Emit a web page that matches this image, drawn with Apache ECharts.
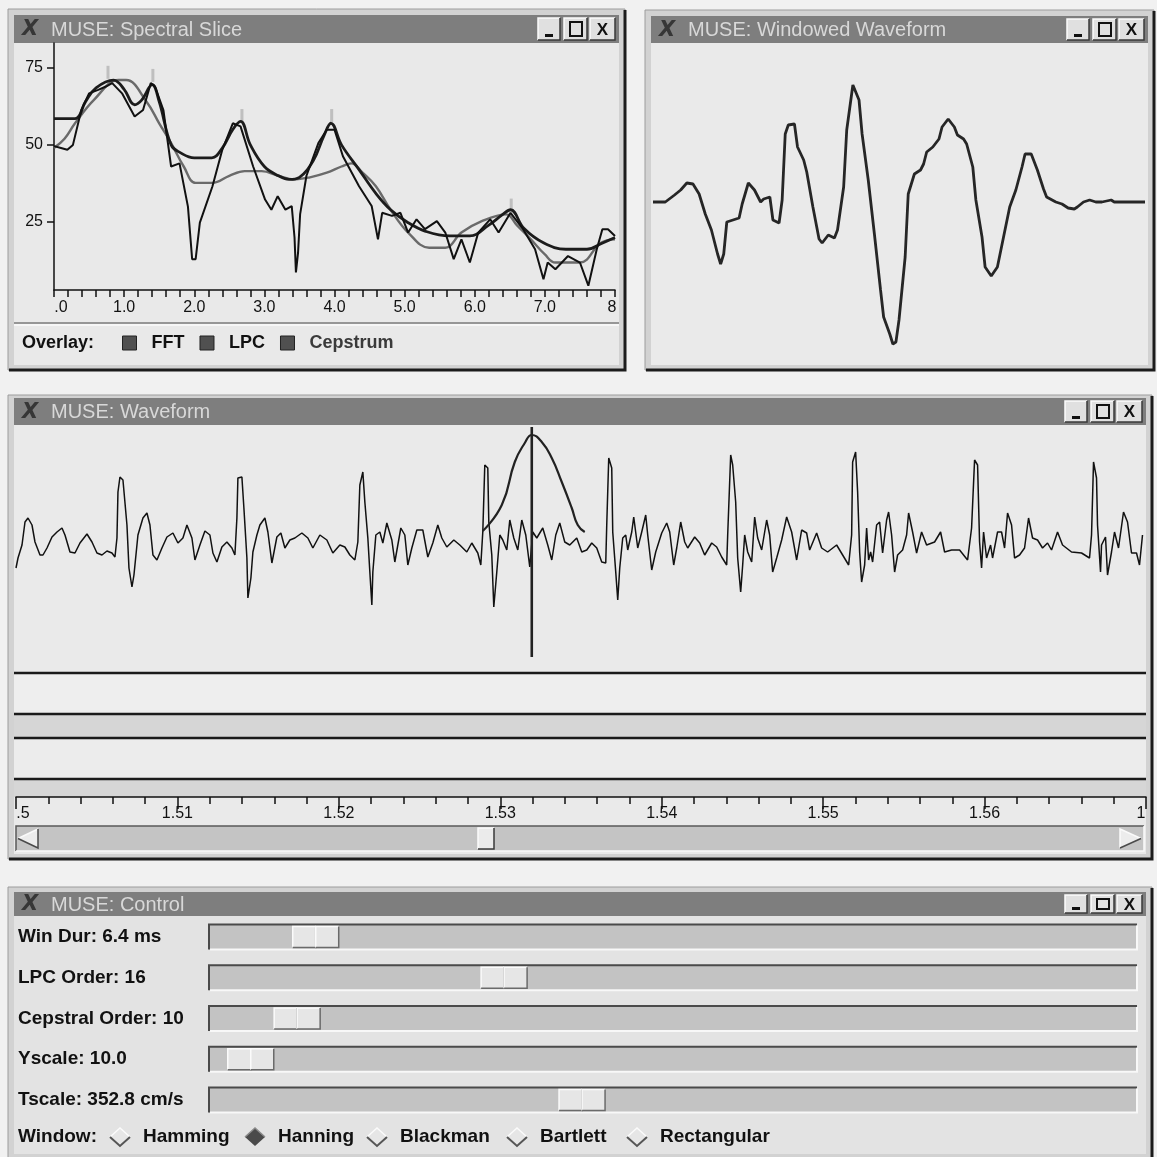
<!DOCTYPE html>
<html>
<head>
<meta charset="utf-8">
<title>MUSE</title>
<script src="https://cdn.jsdelivr.net/npm/echarts@6/dist/echarts.min.js"></script>
<style>
  html, body { margin: 0; padding: 0; background: #f1f1f1; }
  #chart { width: 1157px; height: 1157px; }
</style>
</head>
<body>
<div id="chart"></div>
<script>
// --- Spectral slice: [kHz, dB] ---
const fft = [[0,49.6],[0.1,49],[0.19,48.4],[0.27,50],[0.39,61.3],[0.5,66.7],[0.63,67.8],[0.74,68.9],[0.83,70],[0.97,66.7],[1.15,59.2],[1.27,61.3],[1.38,70],[1.44,68.9],[1.56,61.3],[1.67,43],[1.79,44],[1.91,30],[1.97,13],[2.02,13],[2.08,24.8],[2.26,36.6],[2.4,48.4],[2.55,57],[2.66,56],[2.84,43],[3.01,32.3],[3.1,29],[3.19,33.4],[3.3,29],[3.39,30.2],[3.43,20],[3.45,8.7],[3.48,15],[3.51,27.6],[3.6,40],[3.77,50.6],[3.89,54.9],[4.0,54.9],[4.12,46.3],[4.35,36.6],[4.53,30.2],[4.62,19.4],[4.68,28],[4.82,27],[4.94,28],[5.05,21.6],[5.17,25.9],[5.29,22.7],[5.46,25.3],[5.58,21.6],[5.7,13],[5.81,19.4],[5.93,11.9],[6.05,21.6],[6.22,25.9],[6.34,21.6],[6.51,28],[6.69,22.7],[6.86,16.2],[6.98,6.5],[7.04,11.9],[7.15,9.7],[7.33,14],[7.5,11.9],[7.62,4.4],[7.74,16.2],[7.82,22.7],[7.9,22.7],[8.0,20.5]];
const lpc = [[0,58.5],[0.3,58.5],[0.45,64],[0.6,68.5],[0.85,71],[1.0,68],[1.15,63],[1.25,64.5],[1.4,69.5],[1.5,64],[1.67,50],[1.8,47.5],[2.0,45.8],[2.25,45.8],[2.4,49],[2.55,55],[2.66,57.6],[2.8,50],[3.0,43],[3.2,40],[3.35,38.8],[3.5,39.5],[3.7,45],[3.85,53],[3.95,57],[4.1,50],[4.35,42],[4.6,34],[4.8,29],[5.05,24.8],[5.3,22],[5.64,20.5],[5.93,20.5],[6.2,24],[6.4,27.5],[6.51,29],[6.7,23],[6.98,18.3],[7.3,16.2],[7.6,16.2],[7.8,18],[8.0,20]];
const cepstrum = [[0,49],[0.15,52],[0.3,57],[0.57,64.6],[0.92,71],[1.03,71],[1.32,64],[1.5,57],[1.67,50.6],[1.85,43],[2.02,37.7],[2.26,37.7],[2.5,40],[2.72,41.5],[2.96,41.5],[3.2,40],[3.42,38.8],[3.65,39.5],[3.89,41],[4.1,43],[4.24,44],[4.4,41],[4.59,36.6],[4.8,29],[5.05,21.6],[5.35,16.7],[5.58,16.7],[5.81,21.6],[6.1,25.3],[6.45,27.5],[6.6,24],[6.8,19.4],[7.0,14.5],[7.15,11.9],[7.5,11.9],[7.8,18.3],[8.0,19.4]];
const formants = [[0.77,73.5],[1.41,72.5],[2.68,59.5],[3.96,59.5],[6.52,30.5]];
const freqTickLabels = ['.0','1.0','2.0','3.0','4.0','5.0','6.0','7.0','8'];
const dbTicks = [25, 50, 75];
const overlays = ['FFT', 'LPC', 'Cepstrum'];

// --- Windowed waveform: [sample, amplitude] ---
const windowed = [[0,0],[4,0],[7,7],[9,12],[11,19],[13,18],[15,8],[17,-12],[19,-28],[21,-52],[22,-62],[23,-52],[24,-20],[26,-18],[27,-17],[28,-16],[29,-2],[31,19],[33,12],[35,0],[36,3],[38,5],[39,-18],[41,-21],[42,2],[43,68],[44,77],[46,78],[47,55],[49,42],[50,30],[52,-5],[54,-37],[55,-41],[57,-33],[59,-36],[60,-28],[62,15],[63,72],[65,117],[67,102],[68,68],[70,22],[72,-32],[74,-88],[75,-115],[77,-132],[78,-142],[79,-140],[80,-118],[82,-55],[83,8],[85,28],[87,32],[88,38],[89,50],[91,55],[93,63],[94,75],[96,83],[98,75],[99,67],[101,63],[102,58],[104,35],[105,2],[107,-35],[108,-65],[110,-74],[112,-65],[114,-35],[116,-5],[118,12],[120,35],[121,48],[123,48],[125,32],[127,13],[128,5],[131,0],[133,-2],[135,-6],[137,-7],[138,-5],[140,0],[142,2],[144,0],[146,0],[149,2],[150,0],[160,0]];

// --- Waveform: [sample, amplitude] ---
const wave = [[0,-18],[2,-8],[6,5],[9,28],[12,32],[16,25],[19,8],[24,-5],[27,-5],[31,2],[36,13],[41,18],[46,22],[49,15],[54,-2],[59,-3],[64,7],[71,16],[76,8],[81,-3],[86,-5],[91,-1],[96,-3],[99,-7],[101,12],[102,58],[104,73],[106,73],[107,70],[111,25],[113,-18],[116,-37],[118,-25],[122,15],[127,32],[131,37],[134,25],[137,-5],[141,-10],[146,2],[151,13],[157,17],[162,7],[167,12],[171,25],[176,12],[179,-10],[184,5],[189,19],[194,15],[197,-3],[201,-12],[206,3],[211,8],[216,2],[219,-5],[221,32],[222,72],[226,73],[228,42],[231,-8],[232,-48],[235,-28],[237,-2],[241,15],[244,25],[249,32],[252,18],[256,-13],[261,13],[265,17],[269,2],[274,10],
  [279,12],[286,17],[292,12],[297,2],[304,15],[311,10],[317,-3],[324,5],[329,3],[334,-5],[339,-10],[342,8],[344,65],[347,78],[349,48],[352,12],[354,-22],[356,-55],[357,-22],[360,15],[364,18],[367,7],[371,27],[376,10],[379,-12],[385,22],[389,15],[392,-15],[396,2],[401,20],[407,20],[412,-7],[417,7],[422,25],[426,12],[431,3],[438,10],[444,5],[451,-2],[456,7],[462,-3],[465,-15],[467,18],[469,85],[472,82],[473,28],[476,-5],[478,-57],[481,-22],[484,15],[487,10],[491,0],[494,30],[498,12],[502,0],[506,30],[510,15],[514,-17],[517,18],[521,12],[527,22],[532,5],[536,-10],[540,15],[544,27],[549,8],[554,5],[561,12],[566,-2],
  [571,0],[576,7],[581,2],[586,-12],[590,-13],[591,25],[593,92],[596,82],[597,18],[600,-22],[602,-50],[604,-18],[607,12],[610,15],[612,0],[616,18],[618,33],[622,2],[626,18],[630,35],[632,15],[636,-20],[640,-2],[646,17],[651,27],[654,18],[658,-15],[661,2],[665,28],[669,8],[672,2],[679,13],[684,7],[689,-5],[696,7],[701,3],[706,-7],[711,-15],[712,15],[715,95],[717,85],[720,48],[722,-8],[725,-42],[727,-15],[729,15],[732,-2],[736,-12],[739,33],[742,12],[746,0],[751,30],[754,15],[757,-22],[761,-8],[766,10],[771,33],[776,18],[781,-10],[786,20],[791,17],[794,0],[801,17],[806,2],[812,-2],[821,5],[827,-5],[833,-15],[836,15],[837,88],[840,98],[842,58],[844,-2],[846,-32],
  [849,-15],[851,22],[853,-10],[855,-2],[857,-12],[861,25],[864,28],[867,-3],[871,30],[873,38],[876,15],[879,-22],[882,-5],[887,0],[891,15],[893,37],[897,18],[901,-3],[906,18],[911,5],[919,8],[925,18],[929,-2],[936,0],[944,0],[952,-10],[956,22],[959,90],[962,85],[964,8],[966,-18],[968,18],[971,-8],[975,5],[977,-8],[982,18],[986,18],[989,2],[992,37],[996,25],[999,-8],[1004,-5],[1009,2],[1013,32],[1017,12],[1022,10],[1027,2],[1032,7],[1036,0],[1042,18],[1047,5],[1056,-2],[1066,-3],[1074,-8],[1076,15],[1078,88],[1081,72],[1082,25],[1085,-22],[1086,5],[1090,13],[1092,-25],[1096,-2],[1099,18],[1103,2],[1108,38],[1112,28],[1116,-3],[1121,-3],[1124,-15],[1127,15]];
const analysisWindow = [[467,19],[486,45],[499,88],[509,107],[516,115],[526,108],[536,92],[546,68],[556,42],[562,25],[569,18]];
const cursor = [[516,123],[516,-107]];
const timeTickLabels = ['.5','1.51','1.52','1.53','1.54','1.55','1.56','1'];

// --- Control panel ---
const sliderLabels = ['Win Dur: 6.4 ms', 'LPC Order: 16', 'Cepstral Order: 10', 'Yscale: 10.0', 'Tscale: 352.8 cm/s'];
const sliderPos = [0.115, 0.318, 0.095, 0.045, 0.402];
const windowTypes = ['Hamming', 'Hanning', 'Blackman', 'Bartlett', 'Rectangular'];
const windowSelected = 'Hanning';

const FONT = '"Liberation Sans", "DejaVu Sans", sans-serif';

// ---- window chrome, drawn as graphic elements ----
const G = [];
function rect(x, y, w, h, fill, stroke, lw) {
  G.push({ type: 'rect', shape: { x, y, width: w, height: h },
    style: { fill: fill || 'transparent', stroke: stroke || null, lineWidth: lw || 0 } });
}
function line(points, stroke, lw) {
  G.push({ type: 'polyline', shape: { points }, style: { stroke, lineWidth: lw, fill: null } });
}
function poly(points, fill) {
  G.push({ type: 'polygon', shape: { points }, style: { fill } });
}
function text(x, y, str, font, fill, align) {
  const a = align || 'left';
  G.push({ type: 'text', x, y, style: { text: str, font, fill,
    textAlign: a, align: a, textVerticalAlign: 'middle', verticalAlign: 'middle' } });
}
function bevel(x, y, w, h, fill) {
  rect(x, y, w, h, fill);
  line([[x, y + h], [x, y], [x + w, y]], '#fbfbfb', 1.5);
  line([[x + w, y], [x + w, y + h], [x, y + h]], '#3a3a3a', 1.5);
}
function windowFrame(x, y, w, h, barY, barH, title, bodyFill) {
  rect(x, y, w, h, '#d2d2d2', '#9c9c9c', 1);
  line([[x + 1, y + h], [x + w, y + h], [x + w, y + 1]], '#1c1c1c', 3);
  const bx = x + 6, bw = w - 12;
  rect(bx, barY + barH, bw, y + h - 5 - barY - barH, bodyFill);
  rect(bx, barY, bw, barH, '#7e7e7e');
  text(bx + 8, barY + barH / 2 + 1, 'X', 'italic bold 21px "DejaVu Sans"', '#363636');
  text(bx + 37, barY + barH / 2 + 1, title, '20px ' + FONT, '#d8d8d8');
  const R = bx + bw, by = barY + 3, bh = barH - 6;
  bevel(R - 81, by, 22, bh, '#e0e0e0');
  rect(R - 74, by + bh - 6, 8, 3, '#111');
  bevel(R - 55, by, 23, bh, '#e0e0e0');
  rect(R - 49, by + 4, 12, bh - 8, null, '#111', 2);
  bevel(R - 29, by, 25, bh, '#e0e0e0');
  text(R - 16.5, by + bh / 2 + 1, 'X', 'bold 17px ' + FONT, '#111', 'center');
}

windowFrame(8, 9, 617, 361, 15, 28, 'MUSE: Spectral Slice', '#e9e9e9');
windowFrame(645, 10, 509, 360, 16, 27, 'MUSE: Windowed Waveform', '#eaeaea');
windowFrame(8, 395, 1144, 464, 398, 27, 'MUSE: Waveform', '#eaeaea');
windowFrame(8, 887, 1144, 272, 892, 24, 'MUSE: Control', '#e3e3e3');

// spectral slice: overlay strip
line([[14, 323], [619, 323]], '#7a7a7a', 1.5);
line([[14, 325], [619, 325]], '#fafafa', 1.5);
text(22, 343, 'Overlay:', 'bold 18px ' + FONT, '#111');

// waveform: empty track panels under the signal
rect(14, 673, 1132, 41, '#eeeeee');
rect(14, 714, 1132, 24, '#d6d6d6');
rect(14, 738, 1132, 41, '#ececec');
rect(14, 779, 1132, 18, '#d6d6d6');
[673, 714, 738, 779].forEach(y => line([[14, y], [1146, y]], '#1a1a1a', 2.5));

// waveform: scrollbar
rect(16, 826, 1128, 25, '#c4c4c4');
line([[16, 851], [16, 826], [1144, 826]], '#5a5a5a', 1.5);
line([[16, 851], [1144, 851], [1144, 826]], '#fafafa', 1.5);
poly([[38, 829], [18, 838.5], [38, 848]], '#ececec');
line([[38, 829], [18, 838.5]], '#fafafa', 1.5);
line([[18, 838.5], [38, 848], [38, 829]], '#4a4a4a', 1.5);
poly([[1120, 829], [1141, 838.5], [1120, 848]], '#ececec');
line([[1120, 848], [1120, 829], [1141, 838.5]], '#fafafa', 1.5);
line([[1141, 838.5], [1120, 848]], '#4a4a4a', 1.5);
bevel(478, 828, 16, 21, '#ebebeb');

// control: window type radio buttons
text(18, 1137, 'Window:', 'bold 19px ' + FONT, '#111');
const radioX = [120, 255, 377, 517, 637];
windowTypes.forEach((name, i) => {
  const cx = radioX[i], cy = 1137;
  const pts = [[cx - 10, cy], [cx, cy - 9], [cx + 10, cy], [cx, cy + 9]];
  if (name === windowSelected) {
    poly(pts, '#4a4a4a');
    line([[cx - 10, cy], [cx, cy - 9], [cx + 10, cy]], '#8a8a8a', 1.5);
  } else {
    poly(pts, '#e6e6e6');
    line([[cx - 10, cy], [cx, cy - 9], [cx + 10, cy]], '#fbfbfb', 1.5);
    line([[cx - 10, cy], [cx, cy + 9], [cx + 10, cy]], '#555', 2);
  }
  text(cx + 23, cy, name, 'bold 19px ' + FONT, '#111');
});

function sliderItem(params, api) {
  const cat = api.value(1);
  const p0 = api.coord([0, cat]);
  const p1 = api.coord([1, cat]);
  const cx = api.coord([api.value(0), cat])[0];
  const cy = p0[1], h = 25, th = 21, tw = 23;
  const half = (x) => [
    { type: 'rect', shape: { x, y: cy - th / 2, width: tw, height: th }, style: { fill: '#e6e6e6' } },
    { type: 'polyline', shape: { points: [[x, cy + th / 2], [x, cy - th / 2], [x + tw, cy - th / 2]] },
      style: { stroke: '#fbfbfb', lineWidth: 1.5, fill: null } },
    { type: 'polyline', shape: { points: [[x + tw, cy - th / 2], [x + tw, cy + th / 2], [x, cy + th / 2]] },
      style: { stroke: '#6a6a6a', lineWidth: 1.5, fill: null } }
  ];
  return {
    type: 'group',
    children: [
      { type: 'rect', shape: { x: p0[0], y: cy - h / 2, width: p1[0] - p0[0], height: h }, style: { fill: '#c3c3c3' } },
      { type: 'polyline', shape: { points: [[p0[0], cy + h / 2], [p0[0], cy - h / 2], [p1[0], cy - h / 2]] },
        style: { stroke: '#4a4a4a', lineWidth: 2, fill: null } },
      { type: 'polyline', shape: { points: [[p0[0] + 1, cy + h / 2], [p1[0], cy + h / 2], [p1[0], cy - h / 2 + 1]] },
        style: { stroke: '#f8f8f8', lineWidth: 2, fill: null } }
    ].concat(half(cx - tw), half(cx))
  };
}

const axisBlack = { lineStyle: { color: '#111', width: 1.5 } };

const option = {
  backgroundColor: '#f1f1f1',
  animation: false,
  textStyle: { fontFamily: FONT },
  graphic: { elements: G },
  legend: {
    left: 122, top: 334, padding: 0,
    icon: 'rect', itemWidth: 14, itemHeight: 14, itemGap: 15,
    selectedMode: false,
    formatter: name => '  ' + name,
    textStyle: { fontSize: 18, fontWeight: 'bold', color: '#111' },
    data: overlays.map(name => ({
      name,
      itemStyle: { color: '#505050', borderColor: '#222', borderWidth: 1 },
      textStyle: name === 'Cepstrum' ? { color: '#3a3a3a' } : undefined
    }))
  },
  grid: [
    { left: 54, top: 43, width: 561, height: 247 },
    { left: 653, top: 43, width: 492, height: 317 },
    { left: 16, top: 427, width: 1130, height: 238 },
    { left: 16, top: 782, width: 1130, height: 15 },
    { left: 209, top: 916.6, width: 928, height: 203.75 }
  ],
  xAxis: [
    {
      gridIndex: 0, type: 'value', min: 0, max: 8, interval: 1,
      axisLine: { onZero: false, ...axisBlack },
      axisTick: { length: 7, lineStyle: { color: '#111', width: 1.5 } },
      minorTick: { show: true, splitNumber: 5, length: 7, lineStyle: { color: '#111', width: 1.5 } },
      splitLine: { show: false },
      axisLabel: {
        margin: 10, fontSize: 16, color: '#111',
        formatter: v => {
          const i = Math.round(v);
          if (i === 0) return '{first|' + freqTickLabels[0] + '}';
          if (i === 8) return '{last|' + freqTickLabels[8] + '}';
          return freqTickLabels[i];
        },
        rich: {
          first: { fontSize: 16, color: '#111', padding: [0, 0, 0, 14] },
          last: { fontSize: 16, color: '#111', padding: [0, 6, 0, 0] }
        }
      }
    },
    { gridIndex: 1, type: 'value', min: 0, max: 160, show: false },
    { gridIndex: 2, type: 'value', min: 0, max: 1130.5, show: false },
    {
      gridIndex: 3, type: 'value', min: 0, max: 1130.5, interval: 161.5,
      axisLine: { onZero: false, ...axisBlack },
      axisTick: { length: 12, lineStyle: { color: '#111', width: 1.5 } },
      minorTick: { show: true, splitNumber: 5, length: 7, lineStyle: { color: '#111', width: 1.5 } },
      splitLine: { show: false },
      axisLabel: {
        margin: 9, fontSize: 16, color: '#111',
        formatter: v => {
          const i = Math.round(v / 161.5);
          if (i === 0) return '{first|' + timeTickLabels[0] + '}';
          if (i === timeTickLabels.length - 1) return '{last|' + timeTickLabels[i] + '}';
          return timeTickLabels[i];
        },
        rich: {
          first: { fontSize: 16, color: '#111', padding: [0, 0, 0, 14] },
          last: { fontSize: 16, color: '#111', padding: [0, 10, 0, 0] }
        }
      }
    },
    { gridIndex: 4, type: 'value', min: 0, max: 1, show: false }
  ],
  yAxis: [
    {
      gridIndex: 0, type: 'value', min: 3, max: 83,
      axisLine: { show: true, onZero: false, ...axisBlack },
      axisTick: { show: true, length: 7, customValues: dbTicks, lineStyle: { color: '#111', width: 1.5 } },
      axisLabel: { margin: 11, fontSize: 16, color: '#111', customValues: dbTicks },
      splitLine: { show: false }
    },
    { gridIndex: 1, type: 'value', min: -158, max: 159, show: false },
    { gridIndex: 2, type: 'value', min: -115, max: 123, show: false },
    { gridIndex: 3, type: 'value', min: 0, max: 1, show: false },
    {
      gridIndex: 4, type: 'category', inverse: true, data: sliderLabels,
      axisLine: { show: false }, axisTick: { show: false },
      axisLabel: { align: 'left', margin: 191, fontSize: 19, fontWeight: 'bold', color: '#111' }
    }
  ],
  series: [
    { name: 'Cepstrum', type: 'line', xAxisIndex: 0, yAxisIndex: 0, data: cepstrum, smooth: 0.4,
      showSymbol: false, lineStyle: { color: '#6a6a6a', width: 2.4 }, itemStyle: { color: '#6a6a6a' } },
    { name: 'LPC', type: 'line', xAxisIndex: 0, yAxisIndex: 0, data: lpc, smooth: 0.4,
      showSymbol: false, lineStyle: { color: '#1c1c1c', width: 2.8 }, itemStyle: { color: '#1c1c1c' } },
    { name: 'FFT', type: 'line', xAxisIndex: 0, yAxisIndex: 0, data: fft,
      showSymbol: false, lineStyle: { color: '#111', width: 2 }, itemStyle: { color: '#111' } },
    { name: 'formants', type: 'scatter', xAxisIndex: 0, yAxisIndex: 0, data: formants,
      symbol: 'rect', symbolSize: [3, 13], itemStyle: { color: '#b4b4b4' } },
    { name: 'windowed', type: 'line', xAxisIndex: 1, yAxisIndex: 1, data: windowed,
      showSymbol: false, lineStyle: { color: '#262626', width: 2.8 } },
    { name: 'waveform', type: 'line', xAxisIndex: 2, yAxisIndex: 2, data: wave,
      showSymbol: false, lineStyle: { color: '#111', width: 1.5 } },
    { name: 'window', type: 'line', xAxisIndex: 2, yAxisIndex: 2, data: analysisWindow, smooth: 0.5,
      showSymbol: false, lineStyle: { color: '#222', width: 2.2 } },
    { name: 'cursor', type: 'line', xAxisIndex: 2, yAxisIndex: 2, data: cursor,
      showSymbol: false, lineStyle: { color: '#222', width: 2.6 } },
    { name: 'sliders', type: 'custom', xAxisIndex: 4, yAxisIndex: 4, clip: false,
      data: sliderPos.map((p, i) => [p, i]), renderItem: sliderItem }
  ]
};

const chart = echarts.init(document.getElementById('chart'), null, { renderer: 'canvas' });
chart.setOption(option);
</script>
</body>
</html>
